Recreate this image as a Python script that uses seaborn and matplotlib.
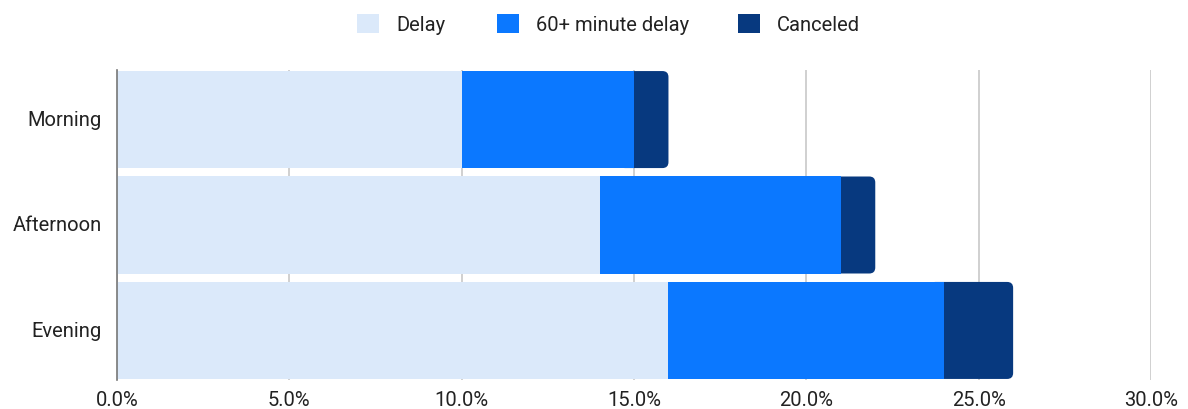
import numpy as np
import pandas as pd
import matplotlib
matplotlib.use("Agg")
import matplotlib.pyplot as plt
import seaborn as sns
from matplotlib.patches import FancyBboxPatch, Patch
from matplotlib.ticker import PercentFormatter

# Share of flights (%) by time of day
periods = ["Morning", "Afternoon", "Evening"]
delay = [10.0, 14.0, 16.0]
delay_60 = [5.0, 7.0, 8.0]
canceled = [1.0, 1.0, 2.0]

series_names = ["Delay", "60+ minute delay", "Canceled"]
colors = ["#DBE9FA", "#0B78FF", "#07397F"]
x_ticks = [0, 5, 10, 15, 20, 25, 30]

df = pd.DataFrame({"period": periods, "delay": delay,
                   "delay_60": delay_60, "canceled": canceled})
df["cum1"] = df["delay"]
df["cum2"] = df["cum1"] + df["delay_60"]
df["cum3"] = df["cum2"] + df["canceled"]

sns.set_theme(style="white")
plt.rcParams["font.family"] = ["Roboto", "DejaVu Sans"]
FS = 14.5

W, H, DPI = 1188, 410, 100
fig = plt.figure(figsize=(W / DPI, H / DPI), dpi=DPI)
ax = fig.add_axes([117 / W, (H - 381) / H, (1151 - 117) / W, (381 - 71) / H])

bar_w = 0.92
# Stacked bars: draw cumulative totals back to front
for col, c in zip(["cum3", "cum2", "cum1"], colors[::-1]):
    sns.barplot(data=df, x=col, y="period", order=periods, orient="h",
                color=c, width=bar_w, saturation=1, ax=ax, zorder=3,
                linewidth=0, errorbar=None)

ax.set_xlim(0, 30)
ax.set_ylim(2.5 - 0.03, -0.5 + 0.03)

# Round the outer end of each total bar; the rounded piece starts just
# inside the middle segment so its left corners stay hidden
fig.canvas.draw()
px_x = ax.transData.transform((1, 0))[0] - ax.transData.transform((0, 0))[0]
px_y = abs(ax.transData.transform((0, 1))[1] - ax.transData.transform((0, 0))[1])
aspect = px_x / px_y
r = 6 / px_x
n = len(periods)
outer = list(ax.patches[:n])
for p, start in zip(outer, df["cum2"]):
    y0, h = p.get_y(), p.get_height()
    x_end = p.get_x() + p.get_width()
    x0 = start - 2.5 * r
    fb = FancyBboxPatch((x0, y0), x_end - x0, h,
                        boxstyle=f"round,pad=0,rounding_size={r}",
                        mutation_aspect=aspect,
                        facecolor=p.get_facecolor(), edgecolor="none",
                        linewidth=0, zorder=2.5)
    p.remove()
    ax.add_patch(fb)

ax.set_xticks(x_ticks)
ax.xaxis.set_major_formatter(PercentFormatter(decimals=1))
ax.grid(axis="x", color="#C8C8C8", linewidth=1.2, zorder=0)
ax.grid(axis="y", visible=False)
for s in ["top", "right", "bottom"]:
    ax.spines[s].set_visible(False)
ax.spines["left"].set_color("#777777")
ax.spines["left"].set_linewidth(1.2)
ax.spines["left"].set_zorder(4)
ax.set_xlabel("")
ax.set_ylabel("")
ax.tick_params(axis="both", length=0, labelsize=FS, colors="#222222")
ax.tick_params(axis="x", pad=7)
ax.tick_params(axis="y", pad=11)
for lbl in ax.get_yticklabels():
    lbl.set_verticalalignment("center")

# One legend entry per series, laid out across the top
legend_x = [357, 497, 738]
for name, c, xpx in zip(series_names, colors, legend_x):
    leg = fig.legend([Patch(facecolor=c, edgecolor="none")], [name],
                     loc="center left", bbox_to_anchor=(xpx / W, 1 - 25 / H),
                     frameon=False, fontsize=FS, handlelength=1.1,
                     handleheight=1.1, handletextpad=0.85, borderpad=0,
                     borderaxespad=0, labelcolor="#222222")

fig.savefig("out.png", dpi=DPI)
